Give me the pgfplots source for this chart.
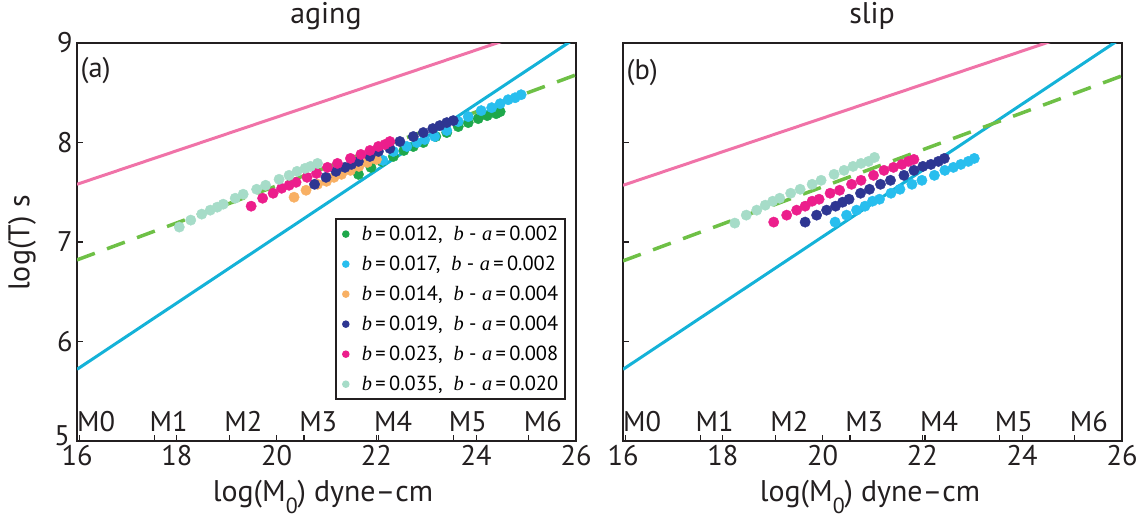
\documentclass[border=0pt]{standalone}
\usepackage{pgfplots}
\pgfplotsset{compat=1.18}
\usepackage{fontspec}
\setmainfont{PT Sans}
\newfontfamily\tnr{Liberation Serif}
\definecolor{cgreen}{RGB}{30,168,75}
\definecolor{clblue}{RGB}{40,190,238}
\definecolor{corange}{RGB}{248,176,100}
\definecolor{cdblue}{RGB}{46,54,146}
\definecolor{cmag}{RGB}{236,30,140}
\definecolor{cteal}{RGB}{166,220,200}
\definecolor{cpink}{RGB}{240,115,168}
\definecolor{cline}{RGB}{20,178,216}
\definecolor{cdash}{RGB}{110,192,70}
\definecolor{ink}{RGB}{35,31,32}
\newcommand{\bi}{{\tnr\itshape b}}
\newcommand{\ai}{{\tnr\itshape a}}
\newcommand{\tickfont}{\fontsize{28.5}{32}\selectfont}
\newcommand{\labfont}{\fontsize{30}{34}\selectfont}
\tikzset{mlab/.style={anchor=south west, inner sep=0pt, font=\tickfont, text=ink}}
\begin{document}
\begin{tikzpicture}
\useasboundingbox (0,0) rectangle (1145bp,521bp);
\pgfplotsset{
  myaxis/.style={
    scale only axis, width=499bp, height=398bp,
    xmin=16, xmax=26, ymin=5, ymax=9,
    xtick={16,18,20,22,24,26},
    tick align=inside, xtick pos=bottom, ytick pos=left,
    major tick length=6bp,
    axis line style={line width=1.6bp, ink},
    every tick/.style={line width=1.2bp, ink},
    tick label style={font=\tickfont, text=ink},
    /pgf/number format/assume math mode=true,
    xticklabel style={yshift=-1bp},
    yticklabel style={xshift=-1bp},
    extra x ticks={16.05,17.55,19.05,20.55,22.05,23.55,25.05},
    extra x tick style={xticklabel={}},
    clip mode=individual,
  },
  scat/.style={only marks, mark=*, mark size=5.2bp, color=#1, mark options={draw=none, fill=#1}},
  lpink/.style={cpink, line width=3bp, forget plot},
  lblue/.style={cline, line width=3bp, forget plot},
  ldash/.style={cdash, line width=3.5bp, dash pattern=on 19bp off 13bp, forget plot},
}
% ---------------- left panel: aging
\begin{axis}[myaxis, at={(77bp,80bp)}, anchor=south west,
  ytick={6,7,8,9},
  extra y ticks={5}, extra y tick style={yticklabel={}},
  legend style={at={(0.98,0.103)}, anchor=south east, draw=ink, line width=1.6bp,
    fill=white, font=\fontsize{20.5}{24}\selectfont, row sep=10bp,
    inner xsep=5bp, inner ysep=5bp},
  legend cell align=left,
  legend image code/.code={\fill[#1, draw=none] (5bp,0bp) circle (3.8bp); \path[draw=none, fill=none] (0bp,0bp) rectangle (19bp,0.1bp);},
]
\addplot[lpink] coordinates {(16,7.58) (26,9.267)};
\addplot[lblue] coordinates {(16,5.72) (26,9.053)};
\addplot[ldash] coordinates {(16,6.82) (26,8.68)};
% b=0.012, b-a=0.002
\addplot[scat=cgreen] coordinates {
(21.64,7.68) (21.89,7.75) (22.11,7.81) (22.34,7.86) (22.55,7.92) (22.74,7.96)
(22.94,8.00) (23.19,8.06) (23.41,8.10) (23.64,8.16) (23.84,8.20) (24.04,8.24)
(24.22,8.27) (24.40,8.29) (24.48,8.31)};
\addlegendentry{\bi\,=\,0.012,\ \ \bi\ -\ \ai\,=\,0.002}
% b=0.017, b-a=0.002
\addplot[scat=clblue] coordinates {
(22.13,7.82) (22.34,7.91) (22.61,7.96) (22.81,8.00) (22.97,8.03) (23.17,8.06)
(23.41,8.12) (23.64,8.21) (23.84,8.26) (24.10,8.32) (24.31,8.35) (24.48,8.39)
(24.64,8.43) (24.78,8.45) (24.90,8.48)};
\addlegendentry{\bi\,=\,0.017,\ \ \bi\ -\ \ai\,=\,0.002}
% b=0.014, b-a=0.004
\addplot[scat=corange] coordinates {
(20.35,7.45) (20.59,7.52) (20.82,7.58) (21.00,7.61) (21.15,7.65) (21.30,7.68)
(21.48,7.72) (21.65,7.76) (21.82,7.80) (22.00,7.83)};
\addlegendentry{\bi\,=\,0.014,\ \ \bi\ -\ \ai\,=\,0.004}
% b=0.019, b-a=0.004
\addplot[scat=cdblue] coordinates {
(20.76,7.58) (20.99,7.65) (21.19,7.71) (21.37,7.75) (21.50,7.78) (21.64,7.81)
(21.87,7.86) (22.04,7.91) (22.27,7.94) (22.47,8.01) (22.74,8.06) (22.94,8.10)
(23.13,8.14) (23.27,8.17) (23.41,8.20) (23.54,8.22)};
\addlegendentry{\bi\,=\,0.019,\ \ \bi\ -\ \ai\,=\,0.004}
% b=0.023, b-a=0.008
\addplot[scat=cmag] coordinates {
(19.49,7.36) (19.72,7.44) (19.93,7.49) (20.10,7.54) (20.25,7.57) (20.39,7.60)
(20.61,7.65) (20.80,7.69) (21.02,7.75) (21.22,7.79) (21.48,7.84) (21.69,7.88)
(21.87,7.92) (22.04,7.96) (22.17,7.98) (22.27,8.01)};
\addlegendentry{\bi\,=\,0.023,\ \ \bi\ -\ \ai\,=\,0.008}
% b=0.035, b-a=0.020
\addplot[scat=cteal] coordinates {
(18.05,7.15) (18.28,7.22) (18.50,7.28) (18.67,7.32) (18.81,7.35) (18.93,7.38)
(19.17,7.44) (19.33,7.48) (19.60,7.53) (19.78,7.57) (20.05,7.63) (20.25,7.67)
(20.41,7.71) (20.57,7.74) (20.68,7.76) (20.82,7.79)};
\addlegendentry{\bi\,=\,0.035,\ \ \bi\ -\ \ai\,=\,0.020}
\node[anchor=west, inner sep=2bp, font=\tickfont, text=ink] at (rel axis cs:0.003,0.932) {(a)};
\node[mlab] at (axis cs:16.00,5.09) {M0};
\node[mlab] at (axis cs:17.45,5.09) {M1};
\node[mlab] at (axis cs:18.95,5.09) {M2};
\node[mlab] at (axis cs:20.45,5.09) {M3};
\node[mlab] at (axis cs:21.95,5.09) {M4};
\node[mlab] at (axis cs:23.45,5.09) {M5};
\node[mlab] at (axis cs:24.95,5.09) {M6};
\end{axis}
% ---------------- right panel: slip
\begin{axis}[myaxis, at={(623bp,80bp)}, anchor=south west, ytick={5,6,7,8,9}, yticklabels={}]
\addplot[lpink] coordinates {(16,7.57) (26,9.257)};
\addplot[lblue] coordinates {(16,5.72) (26,9.053)};
\addplot[ldash] coordinates {(16,6.81) (26,8.67)};
% b=0.017, b-a=0.002
\addplot[scat=clblue] coordinates {
(20.25,7.20) (20.48,7.27) (20.68,7.32) (20.85,7.36) (21.00,7.41) (21.14,7.43)
(21.37,7.49) (21.55,7.53) (21.79,7.58) (21.99,7.62) (22.24,7.67) (22.45,7.72)
(22.62,7.75) (22.77,7.78) (22.92,7.81) (23.04,7.84)};
% b=0.019, b-a=0.004
\addplot[scat=cdblue] coordinates {
(19.65,7.20) (19.88,7.27) (20.08,7.32) (20.26,7.36) (20.40,7.40) (20.53,7.43)
(20.76,7.49) (20.94,7.53) (21.16,7.58) (21.36,7.62) (21.63,7.67) (21.83,7.72)
(22.01,7.76) (22.17,7.78) (22.32,7.81) (22.44,7.84)};
% b=0.023, b-a=0.008
\addplot[scat=cmag] coordinates {
(19.02,7.20) (19.28,7.27) (19.48,7.32) (19.65,7.36) (19.79,7.41) (19.93,7.43)
(20.15,7.49) (20.34,7.52) (20.58,7.58) (20.77,7.62) (21.02,7.67) (21.23,7.72)
(21.42,7.75) (21.59,7.78) (21.72,7.81) (21.83,7.83)};
% b=0.035, b-a=0.020
\addplot[scat=cteal] coordinates {
(18.24,7.19) (18.47,7.27) (18.68,7.32) (18.85,7.37) (19.00,7.41) (19.14,7.44)
(19.36,7.49) (19.55,7.53) (19.79,7.58) (19.97,7.62) (20.23,7.68) (20.43,7.72)
(20.61,7.76) (20.77,7.79) (20.92,7.81) (21.04,7.85)};
\node[anchor=west, inner sep=2bp, font=\tickfont, text=ink] at (rel axis cs:0.003,0.925) {(b)};
\node[mlab] at (axis cs:16.00,5.09) {M0};
\node[mlab] at (axis cs:17.45,5.09) {M1};
\node[mlab] at (axis cs:18.95,5.09) {M2};
\node[mlab] at (axis cs:20.45,5.09) {M3};
\node[mlab] at (axis cs:21.95,5.09) {M4};
\node[mlab] at (axis cs:23.45,5.09) {M5};
\node[mlab] at (axis cs:24.95,5.09) {M6};
\end{axis}
% ---------------- titles and labels
\node[anchor=east, inner sep=0pt, font=\tickfont, text=ink] at (70bp,85bp) {5};
\node[anchor=base, font=\labfont, text=ink] at (326bp,497bp) {aging};
\node[anchor=base, font=\labfont, text=ink] at (872bp,497bp) {slip};
\node[anchor=base, font=\labfont, text=ink] at (323bp,20bp)
  {log(M\raisebox{-0.42em}{\fontsize{22}{22}\selectfont 0}) dyne--cm};
\node[anchor=base, font=\labfont, text=ink] at (870bp,20bp)
  {log(M\raisebox{-0.42em}{\fontsize{22}{22}\selectfont 0}) dyne--cm};
\node[rotate=90, anchor=center, font=\labfont, text=ink] at (22bp,278bp) {log(T) s};
\end{tikzpicture}
\end{document}
